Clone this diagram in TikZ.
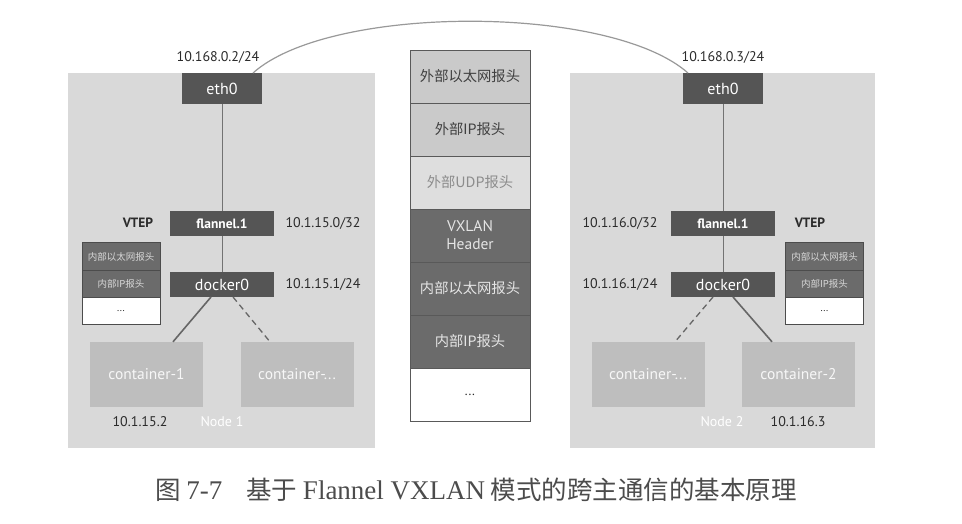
\documentclass[tikz,border=0pt]{standalone}
\usepackage{fontspec}
\setmainfont{PT Sans}
\newfontfamily\cjk{Noto Sans CJK SC}
\newfontfamily\capfont{Liberation Serif}
\usetikzlibrary{positioning}
\definecolor{panel}{HTML}{D9D9D9}
\definecolor{devgray}{HTML}{555555}
\definecolor{ctrgray}{HTML}{BEBEBE}
\definecolor{hdrlight}{HTML}{CACACA}
\definecolor{hdrpale}{HTML}{DEDEDE}
\definecolor{hdrdark}{HTML}{6B6B6B}
\definecolor{lbl}{HTML}{2B2B2B}

\begin{document}
\begin{tikzpicture}[x=1pt,y=-1pt,
	dev/.style={fill=devgray,text=white,inner sep=0pt,outer sep=0pt,font=\fontsize{16}{18}\selectfont},
	bigdev/.style={dev,minimum width=80pt,minimum height=31pt},
	smalldev/.style={dev,minimum width=104pt,minimum height=25pt},
	ctr/.style={fill=ctrgray,text=white!97!black,minimum width=113pt,minimum height=65pt,inner sep=0pt,font=\fontsize{15.5}{17}\selectfont},
	ip/.style={text=lbl,inner sep=0pt,font=\fontsize{14}{16}\selectfont},
	hdr/.style={draw=black!65,line width=0.8pt,minimum width=120pt,minimum height=53pt,inner sep=0pt,outer sep=0pt,align=center,font=\cjk\fontsize{14.3}{17}\selectfont},
	inner/.style={draw=black!70,line width=0.8pt,minimum width=78pt,minimum height=27.3pt,inner sep=0pt,outer sep=0pt,font=\cjk\fontsize{9.5}{10}\selectfont},
	veth/.style={black!60,line width=1.6pt},
	vethdash/.style={black!60,line width=1.3pt,dash pattern=on 6pt off 4pt}]
	\useasboundingbox [fill=white] (0,0) rectangle (962,524);
	% host panels
	\fill [panel] (68,73) rectangle (375,448);
	\fill [panel] (570,73) rectangle (875,448);

	% Node 1
	\node [bigdev] (eth0L) at (222,88.5) {eth0};
	\node [smalldev,font=\bfseries\fontsize{13.5}{15}\selectfont] (flannelL) at (222,223.5) {flannel.1};
	\node [smalldev] (dockerL) at (222,284.5) {docker0};
	\node [ctr] (c1L) at (146.5,374.5) {container-1};
	\node [ctr] (cxL) at (297,374.5) {container-...};
	\draw [black!55,line width=1pt] (eth0L) -- (flannelL) -- (dockerL);
	\draw [veth] ([xshift=-11pt]dockerL.south) -- ([xshift=26.5pt]c1L.north);
	\draw [vethdash] ([xshift=11pt]dockerL.south) -- ([xshift=-27pt]cxL.north);
	\node [inner,fill=hdrdark,text=white!85!black] (innerL1) at (121,256.5) {内部以太网报头};
	\node [inner,fill=hdrdark,text=white!85!black,below=0pt of innerL1] (innerL2) {内部IP报头};
	\node [inner,fill=white,text=lbl,below=0pt of innerL2,font=\fontsize{10}{11}\selectfont] (innerL3) {...};
	\node [ip] (ethipL) at (218,57) {10.168.0.2/24};
	\node [ip,font=\bfseries\fontsize{13.5}{15}\selectfont] (vtepL) at (138,223) {VTEP};
	\node [ip] (flipL) at (323,223) {10.1.15.0/32};
	\node [ip] (dkipL) at (323,284) {10.1.15.1/24};
	\node [ip] (c1ipL) at (140,422) {10.1.15.2};
	\node [ip,text=white] (hostL) at (222,422) {Node 1};

	% Node 2
	\node [bigdev] (eth0R) at (723,88.5) {eth0};
	\node [smalldev,font=\bfseries\fontsize{13.5}{15}\selectfont] (flannelR) at (723,223.5) {flannel.1};
	\node [smalldev] (dockerR) at (723,284.5) {docker0};
	\node [ctr] (cxR) at (648,374.5) {container-...};
	\node [ctr] (c2R) at (798.5,374.5) {container-2};
	\draw [black!55,line width=1pt] (eth0R) -- (flannelR) -- (dockerR);
	\draw [vethdash] ([xshift=-10pt]dockerR.south) -- ([xshift=27pt]cxR.north);
	\draw [veth] ([xshift=10pt]dockerR.south) -- ([xshift=-26.5pt]c2R.north);
	\node [inner,fill=hdrdark,text=white!85!black] (innerR1) at (824.5,256.5) {内部以太网报头};
	\node [inner,fill=hdrdark,text=white!85!black,below=0pt of innerR1] (innerR2) {内部IP报头};
	\node [inner,fill=white,text=lbl,below=0pt of innerR2,font=\fontsize{10}{11}\selectfont] (innerR3) {...};
	\node [ip] (ethipR) at (723,57) {10.168.0.3/24};
	\node [ip] (flipR) at (620,223) {10.1.16.0/32};
	\node [ip,font=\bfseries\fontsize{13.5}{15}\selectfont] (vtepR) at (810,223) {VTEP};
	\node [ip] (dkipR) at (620,284) {10.1.16.1/24};
	\node [ip,text=white] (hostR) at (722,422) {Node 2};
	\node [ip] (c2ipR) at (798,422) {10.1.16.3};

	% VXLAN packet
	\node [hdr,fill=hdrlight,text=black!75] (hdr1) at (470,76.5) {外部以太网报头};
	\node [hdr,fill=hdrlight,text=black!75,below=0pt of hdr1] (hdr2) {外部IP报头};
	\node [hdr,fill=hdrpale,text=black!45,below=0pt of hdr2] (hdr3) {外部UDP报头};
	\node [hdr,fill=hdrdark,text=white!90!black,below=0pt of hdr3,font=\fontsize{15.5}{18}\selectfont] (hdr4) {VXLAN\\Header};
	\node [hdr,fill=hdrdark,text=white!90!black,below=0pt of hdr4] (hdr5) {内部以太网报头};
	\node [hdr,fill=hdrdark,text=white!90!black,below=0pt of hdr5] (hdr6) {内部IP报头};
	\node [hdr,fill=white,text=lbl,below=0pt of hdr6,font=\fontsize{13}{15}\selectfont] (hdr7) {...};

	% underlay link
	\draw [black!40,line width=1.2pt] ([xshift=31pt]eth0L.north) .. controls (330,4) and (610,4) .. ([xshift=-35pt]eth0R.north);

	\node [text=black!70,inner sep=0pt,font=\cjk\fontsize{25.5}{28}\selectfont] (caption) at (476,490)
		{图 {\capfont\fontsize{27}{29}\selectfont 7-7}\hspace{24pt}基于 {\capfont\fontsize{27}{29}\selectfont Flannel VXLAN} 模式的跨主通信的基本原理};
\end{tikzpicture}
\end{document}
